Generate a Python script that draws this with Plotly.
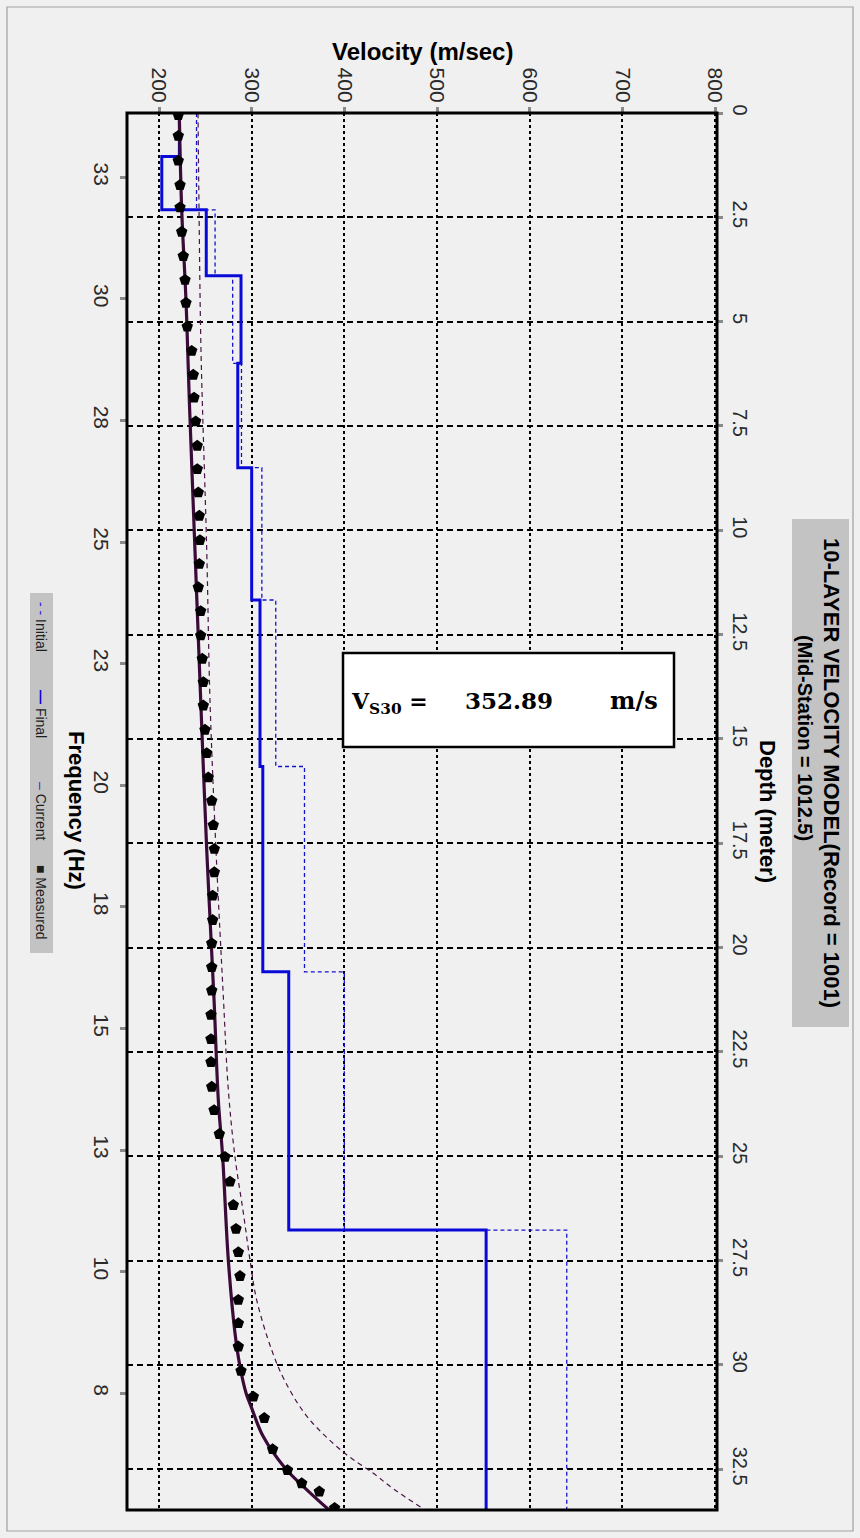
import plotly.graph_objects as go

# ---------------- data ----------------
layer_top_depth = [0, 1.04, 2.32, 3.9, 6.0, 8.5, 11.67, 15.66, 20.58, 26.77]
halfspace_bottom = 34.0
final_vs = [222, 203, 251, 288.5, 285, 300, 309, 312, 340, 553]
initial_vs = [240.5, 240.5, 260.5, 279.5, 289, 311, 326, 357, 400, 640]

meas_freq = [34.28, 33.85, 33.34, 32.84, 32.38, 31.88, 31.38, 30.89, 30.42, 29.93,
             29.43, 28.94, 28.47, 27.98, 27.48, 27.00, 26.52, 26.04, 25.54, 25.05,
             24.57, 24.08, 23.58, 23.10, 22.62, 22.14, 21.64, 21.16, 20.66, 20.18,
             19.68, 19.19, 18.71, 18.23, 17.73, 17.25, 16.76, 16.28, 15.78, 15.28,
             14.81, 14.30, 13.82, 13.33, 12.86, 12.35, 11.87, 11.38, 10.90, 10.41,
             9.92, 9.44, 8.96, 8.46, 7.93, 7.49, 6.85, 6.42, 6.15, 5.98, 5.64]
meas_vel = [220.8, 220.8, 220.8, 222.7, 222.7, 224.5, 226.2, 228.1, 229.1, 230.5,
            235.3, 237.0, 237.8, 239.6, 241.3, 241.3, 242.4, 243.5, 244.2, 243.5,
            242.4, 245.0, 245.0, 246.7, 247.8, 247.8, 249.6, 251.5, 253.2, 256.9,
            258.6, 259.7, 259.7, 257.9, 257.9, 256.9, 256.9, 256.9, 256.1, 256.1,
            256.1, 256.9, 259.4, 265.1, 271.2, 276.6, 280.2, 283.1, 285.6, 287.4,
            285.6, 285.6, 285.6, 288.5, 301.8, 313.6, 322.6, 338.6, 354.0, 373.0, 389.5]

cur_freq = [34.32, 32.33, 30.48, 28.42, 25.34, 22.26, 19.17, 16.09, 14.03, 12.86,
            10.74, 9.24, 8.55, 8.00, 7.72, 7.11, 6.46, 6.01, 5.60]
cur_vel = [221.9, 224.5, 229.1, 232.7, 238.8, 245.0, 251.5, 259.4, 264.0, 268.7,
           274.8, 282.0, 287.4, 294.0, 299.5, 312.5, 336.2, 359.9, 383.6]

ini_freq = [34.32, 32.33, 29.45, 25.34, 22.26, 19.17, 16.09, 14.24, 12.86, 11.71,
            10.74, 9.92, 8.89, 8.27, 7.52, 6.80, 6.36, 6.01, 5.64]
ini_vel = [242.1, 243.2, 245.3, 251.5, 255.0, 261.5, 269.6, 274.8, 282.0, 291.0,
           298.2, 305.4, 321.6, 335.4, 359.9, 398.3, 430.9, 454.7, 484.2]

vel_ticks = [200, 300, 400, 500, 600, 700, 800]
depth_ticks = [0, 2.5, 5, 7.5, 10, 12.5, 15, 17.5, 20, 22.5, 25, 27.5, 30, 32.5]
depth_ticktext = ["0", "2.5", "5", "7.5", "10", "12.5", "15", "17.5", "20", "22.5",
                  "25", "27.5", "30", "32.5"]
freq_ticks = [33, 30.5, 28, 25.5, 23, 20.5, 18, 15.5, 13, 10.5, 8]
freq_ticktext = ["33", "30", "28", "25", "23", "20", "18", "15", "13", "10", "8"]

vs30_value = "352.89"
title_line1 = "10-LAYER VELOCITY MODEL(Record = 1001)"
title_line2 = "(Mid-Station = 1012.5)"

# ---------------- layout geometry (pixels) ----------------
W, H = 860, 1538
L, T, R, B = 127, 113, 717, 1510
PW, PH = R - L, B - T


def px(xp):
    return (xp - L) / PW


def py(yp):
    return (B - yp) / PH


FONT = "Arial, Liberation Sans, sans-serif"


def steps(tops, vals, bottom):
    xs, ys = [], []
    for i, v in enumerate(vals):
        d0 = tops[i]
        d1 = tops[i + 1] if i + 1 < len(tops) else bottom
        xs += [v, v]
        ys += [d0, d1]
    return xs, ys


fx, fy = steps(layer_top_depth, final_vs, halfspace_bottom)
ix, iy = steps(layer_top_depth, initial_vs, halfspace_bottom)

fig = go.Figure()
fig.add_trace(go.Scatter(x=ix, y=iy, mode="lines", xaxis="x", yaxis="y",
                         line=dict(color="#1414c8", width=1.3, dash="4px,3px"),
                         name="Initial model"))
fig.add_trace(go.Scatter(x=fx, y=fy, mode="lines", xaxis="x", yaxis="y",
                         line=dict(color="#0a0ad8", width=3), name="Final model"))
fig.add_trace(go.Scatter(x=ini_vel, y=ini_freq, mode="lines", xaxis="x", yaxis="y2",
                         line=dict(color="#4a1446", width=1.2, dash="5px,4px", shape="spline"),
                         name="Initial"))
fig.add_trace(go.Scatter(x=cur_vel, y=cur_freq, mode="lines", xaxis="x", yaxis="y2",
                         line=dict(color="#3a0a38", width=3.2, shape="spline"),
                         name="Current"))
fig.add_trace(go.Scatter(x=meas_vel, y=meas_freq, mode="markers", xaxis="x", yaxis="y2",
                         marker=dict(symbol="pentagon", size=12, color="black"),
                         name="Measured"))

vmin = 200 + (L - 159) / 0.9267
vmax = 200 + (R - 159) / 0.9267
dmax = (B - 113.3) / 41.72
ftop = 33 + (177.3 - T) / 48.64
fbot = 33 - (B - 177.3) / 48.64

tickfont = dict(family=FONT, size=21, color="#2a2a2a")

fig.update_layout(
    width=W, height=H,
    margin=dict(l=L, r=W - R, t=T, b=H - B, pad=0),
    paper_bgcolor="#f0f0f0", plot_bgcolor="#f0f0f0",
    showlegend=False,
    xaxis=dict(side="top", range=[vmin, vmax], tickvals=vel_ticks, tickangle=90,
               tickfont=tickfont, ticks="outside", ticklen=5, tickwidth=3,
               tickcolor="#8a8a8a", showgrid=True, gridcolor="black", gridwidth=1.6,
               griddash="3px,3px", zeroline=False, showline=False, ticklabelstandoff=-3),
    yaxis=dict(side="right", range=[dmax, 0], tickvals=depth_ticks, ticktext=depth_ticktext,
               tickangle=90, tickfont=dict(family=FONT, size=20, color="#2a2a2a"),
               ticks="outside", ticklen=5, tickwidth=3,
               tickcolor="#8a8a8a", showgrid=True, gridcolor="black", gridwidth=1.6,
               griddash="6px,4px", zeroline=False, showline=False, ticklabelstandoff=2),
    yaxis2=dict(side="left", overlaying="y", anchor="x", range=[fbot, ftop],
                tickvals=freq_ticks, ticktext=freq_ticktext, tickangle=90,
                tickfont=tickfont, ticks="outside", ticklen=6, tickwidth=3,
                tickcolor="#8a8a8a", showgrid=False, zeroline=False, showline=False,
                ticklabelstandoff=1),
)

shapes = []
# plot frame
shapes.append(dict(type="rect", xref="paper", yref="paper", x0=0, x1=1, y0=0, y1=1,
                   line=dict(color="black", width=3), layer="above"))
# outer border of the window
shapes.append(dict(type="rect", xref="paper", yref="paper", x0=px(7), x1=px(853),
                   y0=py(1531), y1=py(7), line=dict(color="#a0a0a0", width=1.2),
                   layer="below"))
# title box
shapes.append(dict(type="rect", xref="paper", yref="paper", x0=px(792), x1=px(849),
                   y0=py(1027), y1=py(519), fillcolor="#c3c3c3", line=dict(width=0),
                   layer="below"))
# legend box
shapes.append(dict(type="rect", xref="paper", yref="paper", x0=px(30), x1=px(53),
                   y0=py(953), y1=py(593), fillcolor="#c3c3c3", line=dict(width=0),
                   layer="below"))
# VS30 box
shapes.append(dict(type="rect", xref="paper", yref="paper", x0=px(343), x1=px(674),
                   y0=py(747), y1=py(653), fillcolor="white",
                   line=dict(color="black", width=2.5), layer="above"))
fig.update_layout(shapes=shapes)

ann = []


def add_text(text, x, y, size, angle=0, bold=False, family=FONT, color="black",
             xanchor="center"):
    t = f"<b>{text}</b>" if bold else text
    ann.append(dict(text=t, x=px(x), y=py(y), xref="paper", yref="paper",
                    showarrow=False, textangle=angle, xanchor=xanchor, yanchor="middle",
                    font=dict(family=family, size=size, color=color)))


add_text("Velocity (m/sec)", 422, 52, 24, bold=True)
add_text("Depth (meter)", 768, 811, 22, angle=90, bold=True)
add_text("Frequency (Hz)", 77, 810, 22, angle=90, bold=True)
add_text(title_line1, 832, 773, 22, angle=90, bold=True)
add_text(title_line2, 805, 738, 20, angle=90, bold=True)

# legend entries
add_text("<span style='color:#2020e0'>- -</span> Initial", 41, 627, 14, angle=90,
         color="#1e1e1e")
add_text("<span style='color:#0000e0'><b>—</b></span> Final", 41, 714, 14, angle=90,
         color="#1e1e1e")
add_text("<span style='color:#3030c8'>–</span> Current", 41, 811, 14, angle=90,
         color="#1e1e1e")
add_text("■ Measured", 41, 902, 14, angle=90, color="#1e1e1e")

# VS30 box text
SERIF = "DejaVu Serif, serif"
ann.append(dict(text="<b>V<sub>S30</sub> =</b>", x=px(349), y=py(703), xref="paper",
                yref="paper", showarrow=False, xanchor="left", yanchor="middle",
                font=dict(family=SERIF, size=22, color="black")))
add_text(vs30_value, 509, 701, 23, bold=True, family=SERIF)
add_text("m/s", 634, 701, 24, bold=True, family=SERIF)

fig.update_layout(annotations=ann)

fig.write_html("out.html", config={"displayModeBar": False},
               post_script="document.body.style.margin='0';"
                           "document.body.style.background='#f0f0f0';")
